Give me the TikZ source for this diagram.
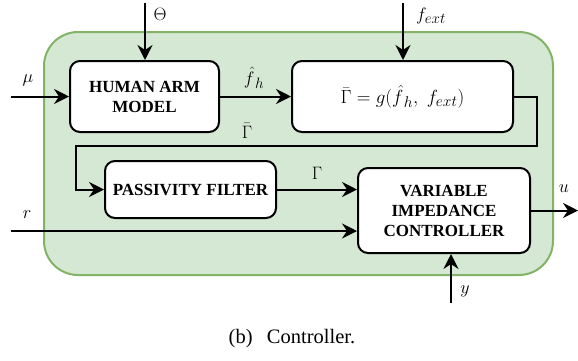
\RequirePackage{fix-cm}
\documentclass[tikz,border=0pt]{standalone}
\usepackage{fontspec}
\setmainfont{Liberation Serif}
\usetikzlibrary{arrows.meta}
\DeclareMathSizes{18}{18}{15}{12}
\DeclareMathSizes{19}{19}{15.5}{12}
\definecolor{grfill}{HTML}{D5E8D4}
\definecolor{grline}{HTML}{82B366}
\begin{document}
\begin{tikzpicture}[x=1pt,y=-1pt,
  container/.style={draw=grline,fill=grfill,line width=2pt,rounded corners=34pt,minimum width=509pt,minimum height=243pt,inner sep=0pt},
  blk/.style={draw=black,fill=white,line width=2pt,rounded corners=10pt,inner sep=0pt,align=center,
    font=\fontsize{17}{20}\selectfont\bfseries},
  arr/.style={line width=2pt,-{Stealth[length=15pt,width=15pt,inset=5pt]}},
  lbl/.style={font=\fontsize{18}{20}\selectfont,inner sep=0pt}]
\useasboundingbox (0,0) rectangle (578,360);
\node[container] (ctrl) at (298.5,153.5) {};
\node[blk,minimum width=149pt,minimum height=71pt] (ham) at (144.5,96.5) {HUMAN ARM\\MODEL};
\node[blk,minimum width=221pt,minimum height=71pt,font=\fontsize{19}{22}\selectfont] (gbar) at (402.5,96.5) {$\bar{\Gamma}=g(\hat{f}_{\,h},\; f_{ext})$};
\node[blk,minimum width=171pt,minimum height=57pt] (pf) at (190.5,189.5) {PASSIVITY FILTER};
\node[blk,minimum width=172pt,minimum height=85pt] (vic) at (444,210.5) {VARIABLE\\IMPEDANCE\\CONTROLLER};
\coordinate (thetain) at (145,3);
\coordinate (fextin) at (403,3);
\coordinate (muin) at (11,96.5);
\coordinate (rin) at (11,231);
\coordinate (uout) at (578,210.5);
\coordinate (yin) at (451,303);
\coordinate (fb1) at (537,146);
\coordinate (fb2) at (76,146);
\draw[arr] (thetain) -- (thetain |- ham.north);
\draw[arr] (fextin) -- (fextin |- gbar.north);
\draw[arr] (muin) -- (ham.west);
\draw[arr] (ham.east) -- (gbar.west);
\draw[arr] (gbar.east) -| (fb1) -- (fb2) |- (pf.west);
\draw[arr] (pf.east) -- (pf.east -| vic.west);
\draw[arr] (rin) -- (rin -| vic.west);
\draw[arr] (vic.east |- uout) -- (uout);
\draw[arr] (yin) -- (yin |- vic.south);
\node[lbl] (lth) at (160,14) {$\Theta$};
\node[lbl] (lfe) at (431,16) {$f_{ext}$};
\node[lbl] (lmu) at (28,80) {$\mu$};
\node[lbl] (lfh) at (254,78) {$\hat{f}_{\,h}$};
\node[lbl] (lgb) at (247,131) {$\bar{\Gamma}$};
\node[lbl] (lg) at (317,173) {$\Gamma$};
\node[lbl] (lr) at (27,215) {$r$};
\node[lbl] (lu) at (564,189) {$u$};
\node[lbl] (ly) at (465,291) {$y$};
\node[inner sep=0pt,font=\fontsize{20.5}{24}\selectfont] (cap) at (292,339) {(b)\hspace{0.7em}Controller.};
\end{tikzpicture}
\end{document}
